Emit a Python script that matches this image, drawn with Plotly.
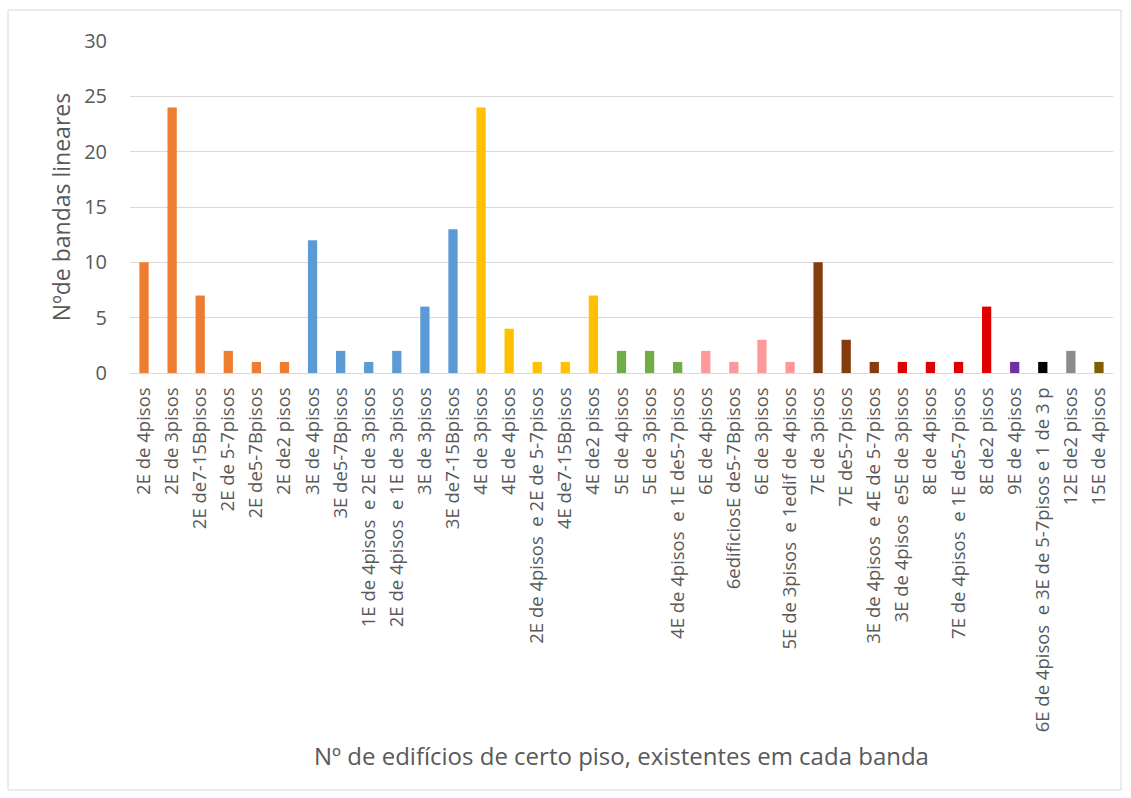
import plotly.graph_objects as go

categories = [
    "2E de 4pisos", "2E de 3pisos", "2E de7-15Bpisos", "2E de 5-7pisos", "2E de5-7Bpisos", "2E de2 pisos",
    "3E de 4pisos", "3E de5-7Bpisos", "1E de 4pisos  e 2E de 3pisos", "2E de 4pisos  e 1E de 3pisos",
    "3E de 3pisos", "3E de7-15Bpisos",
    "4E de 3pisos", "4E de 4pisos", "2E de 4pisos  e 2E de 5-7pisos", "4E de7-15Bpisos", "4E de2 pisos",
    "5E de 4pisos", "5E de 3pisos", "4E de 4pisos  e 1E de5-7pisos",
    "6E de 4pisos", "6edificiosE de5-7Bpisos", "6E de 3pisos", "5E de 3pisos  e 1edif de 4pisos",
    "7E de 3pisos", "7E de5-7pisos", "3E de 4pisos  e 4E de 5-7pisos",
    "3E de 4pisos  e5E de 3pisos", "8E de 4pisos", "7E de 4pisos  e 1E de5-7pisos", "8E de2 pisos",
    "9E de 4pisos", "6E de 4pisos  e 3E de 5-7pisos e 1 de 3 p", "12E de2 pisos", "15E de 4pisos",
]
values = [10, 24, 7, 2, 1, 1,
          12, 2, 1, 2, 6, 13,
          24, 4, 1, 1, 7,
          2, 2, 1,
          2, 1, 3, 1,
          10, 3, 1,
          1, 1, 1, 6,
          1, 1, 2, 1]
groups = ["2E"] * 6 + ["3E"] * 6 + ["4E"] * 5 + ["5E"] * 3 + ["6E"] * 4 + ["7E"] * 3 + ["8E"] * 4 + ["9E", "9E+", "12E", "15E"]
group_colors = {
    "2E": "#ED7D31", "3E": "#5B9BD5", "4E": "#FFC000", "5E": "#70AD47", "6E": "#FF9999",
    "7E": "#843C0C", "8E": "#E00000", "9E": "#7030A0", "9E+": "#000000", "12E": "#8C8C8C", "15E": "#7F6000",
}
colors = [group_colors[g] for g in groups]

fig = go.Figure(go.Bar(x=categories, y=values, marker_color=colors, marker_line_width=0, width=0.33))

font = "Open Sans"
fig.update_layout(
    width=1131, height=798,
    margin=dict(l=130, r=18, t=41, b=425),
    plot_bgcolor="white", paper_bgcolor="white",
    showlegend=False,
    font=dict(family=font, color="#595959"),
    xaxis=dict(
        tickangle=-90, tickfont=dict(size=18.5, color="#595959"),
        showgrid=False, showline=True, linecolor="#D9D9D9", linewidth=1,
        ticks="", range=[-0.5, len(categories) - 0.5], automargin=False,
        ticklabelstandoff=6,
        title=dict(text="Nº de edifícios de certo piso, existentes em cada banda",
                   font=dict(size=24, color="#595959"), standoff=16),
    ),
    yaxis=dict(
        range=[0, 30], dtick=5, tickfont=dict(size=20, color="#595959"),
        showgrid=True, gridcolor="#D9D9D9", gridwidth=1, zeroline=False, ticks="",
        ticklabelstandoff=22, automargin=False,
        title=dict(text="Nºde bandas lineares", font=dict(size=23, color="#595959"), standoff=7),
    ),
)
fig.add_shape(type="rect", xref="paper", yref="paper",
              x0=(8 - 130) / 983, x1=(1121 - 130) / 983,
              y0=(373 - 790) / 332, y1=(373 - 10) / 332,
              line=dict(color="#D9D9D9", width=1), fillcolor="rgba(0,0,0,0)", layer="below")

fig.write_html("out.html")
